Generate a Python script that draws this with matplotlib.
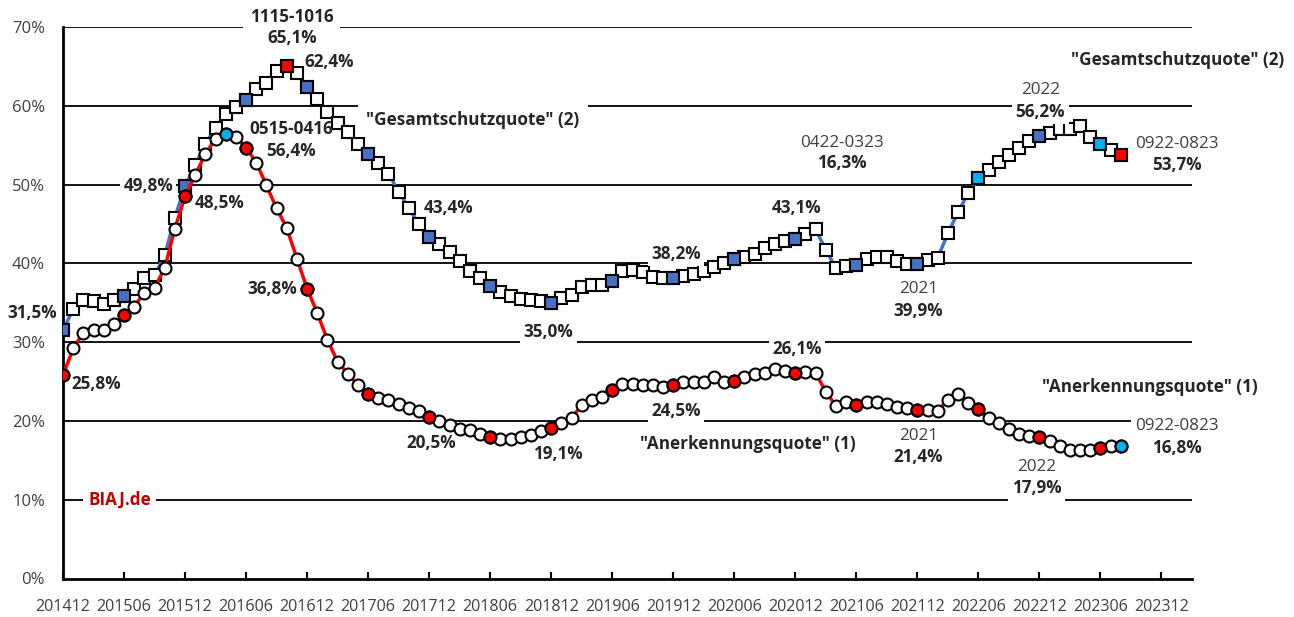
import matplotlib
matplotlib.use("Agg")
import matplotlib.pyplot as plt

# ---------------- data ----------------
tick_labels = ["201412", "201506", "201512", "201606", "201612", "201706", "201712",
               "201806", "201812", "201906", "201912", "202006", "202012", "202106",
               "202112", "202206", "202212", "202306", "202312"]

gesamtschutzquote = [
    31.5, 34.2, 35.4, 35.2, 34.9, 35.3, 35.9, 36.7, 38.2, 38.5, 41.0, 45.8, 49.8, 52.5, 55.2, 57.2, 59.0, 59.9, 60.7,
    62.1, 62.9, 64.4, 65.1, 64.1, 62.4, 60.9, 59.2, 57.8, 56.7, 55.1, 53.9, 52.8, 51.4, 49.1, 47.0, 45.0, 43.4,
    42.5, 41.5, 40.3, 39.0, 38.1, 37.1, 36.4, 35.8, 35.5, 35.3, 35.2, 35.0, 35.6, 36.0, 37.0, 37.2, 37.2, 37.8,
    39.0, 39.1, 38.9, 38.3, 38.2, 38.2, 38.4, 38.7, 39.0, 39.6, 40.0, 40.5, 40.8, 41.2, 41.9, 42.5, 42.9, 43.1,
    43.7, 44.3, 41.7, 39.4, 39.7, 39.8, 40.6, 40.8, 40.8, 40.3, 39.9, 39.9, 40.4, 40.7, 43.8, 46.5, 48.9, 50.8,
    51.8, 52.9, 53.7, 54.6, 55.5, 56.2, 56.6, 57.1, 57.1, 57.4, 56.1, 55.1, 54.4, 53.7]

anerkennungsquote = [
    25.8, 29.2, 31.2, 31.5, 31.6, 32.3, 33.4, 34.5, 36.3, 36.9, 39.4, 44.4, 48.5, 51.2, 53.9, 55.8, 56.4, 56.1, 54.7,
    52.8, 49.9, 47.0, 44.5, 40.6, 36.8, 33.7, 30.3, 27.5, 26.0, 24.5, 23.4, 22.9, 22.6, 22.1, 21.7, 21.2, 20.5,
    20.0, 19.5, 19.0, 18.8, 18.4, 17.9, 17.7, 17.7, 17.9, 18.2, 18.7, 19.1, 19.8, 20.4, 22.0, 22.7, 23.1, 23.9,
    24.7, 24.7, 24.6, 24.5, 24.3, 24.5, 24.9, 25.0, 24.9, 25.6, 25.0, 25.1, 25.6, 25.9, 26.1, 26.6, 26.4, 26.1,
    26.2, 26.1, 23.7, 21.9, 22.4, 22.0, 22.4, 22.4, 22.2, 21.8, 21.6, 21.4, 21.4, 21.3, 22.7, 23.4, 22.3, 21.5,
    20.4, 19.8, 19.0, 18.3, 18.1, 17.9, 17.4, 16.8, 16.3, 16.3, 16.3, 16.6, 16.8, 16.8]

# highlighted markers (indices into the series)
g_blue = [0, 6, 12, 18, 24, 30, 36, 42, 48, 54, 60, 66, 72, 78, 84, 96]
g_cyan = [90, 102]
g_red = [22, 104]
a_red = [0, 6, 12, 18, 24, 30, 36, 42, 48, 54, 60, 66, 72, 78, 84, 90, 96, 102]
a_cyan = [16, 104]

# ---------------- style ----------------
FONT = "Open Sans"
plt.rcParams["font.family"] = [FONT, "DejaVu Sans"]
BLUE = "#4472C4"
CYAN = "#00B0F0"
RED = "#FF0000"
GREY = "#404040"
DARK = "#262626"
FS = 12.3
MS = 8.6

fig = plt.figure(figsize=(12.94, 6.17), dpi=100)
ax = fig.add_axes([63 / 1294, 1 - 578.5 / 617, (1192 - 63) / 1294, (578.5 - 27) / 617])

n = len(gesamtschutzquote)
x = list(range(n))

# gridlines
for v in range(10, 80, 10):
    ax.axhline(v, color="black", lw=1.3, zorder=1)

ax.plot(x, gesamtschutzquote, color=BLUE, lw=2.5, zorder=3,
        marker="s", ms=MS, mfc="white", mec="black", mew=1.5)
for idxs, col in ((g_blue, BLUE), (g_cyan, CYAN), (g_red, RED)):
    ax.plot(idxs, [gesamtschutzquote[i] for i in idxs], ls="none", marker="s", ms=MS,
            mfc=col, mec="black", mew=1.5, zorder=3.5)

ax.plot(x, anerkennungsquote, color=RED, lw=2.5, zorder=4,
        marker="o", ms=MS, mfc="white", mec="black", mew=1.5)
for idxs, col in ((a_red, RED), (a_cyan, CYAN)):
    ax.plot(idxs, [anerkennungsquote[i] for i in idxs], ls="none", marker="o", ms=MS,
            mfc=col, mec="black", mew=1.5, zorder=4.5)

ax.set_xlim(0, 111)
ax.set_ylim(0, 70)
ax.set_yticks(range(0, 80, 10))
ax.set_yticklabels([f"{v}%" for v in range(0, 80, 10)], fontsize=12, color=GREY)
ax.set_xticks(range(0, 109, 6))
ax.set_xticklabels(tick_labels, fontsize=11.6, color=GREY)
ax.tick_params(axis="y", length=0, pad=13)
ax.tick_params(axis="x", direction="in", length=5, width=1.5, pad=15)
for s in ("top", "right"):
    ax.spines[s].set_visible(False)
for s in ("left", "bottom"):
    ax.spines[s].set_linewidth(2)
ax.spines["bottom"].set_zorder(6)


def lab(series, idx, dx, dy, text, bold=True, box=False, ha="center", color=None, pad=0.2):
    kw = {}
    if box:
        kw["bbox"] = dict(boxstyle=f"square,pad={pad}", fc="white", ec="none")
    ax.annotate(text, xy=(idx, series[idx]), xytext=(dx, -dy), textcoords="offset pixels",
                ha=ha, va="center", fontsize=FS, fontweight="bold" if bold else "normal",
                color=color or (DARK if bold else GREY), zorder=7, **kw)


G, A = gesamtschutzquote, anerkennungsquote
lab(G, 22, 5, -49, "1115-1016", box=True, pad=0.4)
lab(G, 22, 5, -28, "65,1%", box=True)
lab(G, 24, 22, -25, "62,4%")
lab(A, 16, 66, -5, "0515-0416")
lab(A, 16, 65, 17, "56,4%")
lab(G, 12, -12, 0, "49,8%", box=True, ha="right")
lab(A, 12, 35, 7, "48,5%")
lab(G, 0, -31, -17, "31,5%")
lab(A, 0, 33, 9, "25,8%")
lab(A, 24, -35, 0, "36,8%")
lab(G, 36, 19, -29, "43,4%")
lab(A, 36, 2, 26, "20,5%")
lab(G, 48, -3, 29, "35,0%", box=True)
lab(A, 48, 7, 26, "19,1%")
lab(G, 60, 3, -24, "38,2%", box=True)
lab(A, 60, 3, 26, "24,5%", box=True)
lab(A, 72, 2, -24, "26,1%", box=True)
lab(G, 72, 1, -31, "43,1%")
lab(G, 84, 1, 25, "2021", bold=False)
lab(G, 84, 1, 47, "39,9%")
lab(G, 96, 1, -46, "2022", bold=False, box=True)
lab(G, 96, 1, -24, "56,2%", box=True)
lab(G, 104, 56, -11, "0922-0823", bold=False)
lab(G, 104, 56, 10, "53,7%")
lab(A, 104, 56, -20, "0922-0823", bold=False, box=True, pad=0.25)
lab(A, 104, 56, 2, "16,8%")
lab(A, 84, 1, 26, "2021", bold=False)
lab(A, 84, 1, 47, "21,4%")
lab(A, 96, -3, 30, "2022", bold=False)
lab(A, 96, -3, 51, "17,9%", box=True)

# free texts
ax.text(76.6, 55.3, "0422-0323", ha="center", va="center", fontsize=FS, color=GREY, zorder=7)
ax.text(76.6, 52.7, "16,3%", ha="center", va="center", fontsize=FS, fontweight="bold", color=DARK, zorder=7)
ax.text(40.3, 58.25, '"Gesamtschutzquote" (2)', ha="center", va="center", fontsize=FS,
        fontweight="bold", color=DARK, zorder=7,
        bbox=dict(boxstyle="square,pad=0.5", fc="white", ec="none"))
ax.text(109.6, 65.8, '"Gesamtschutzquote" (2)', ha="center", va="center", fontsize=FS,
        fontweight="bold", color=DARK, zorder=7)
ax.text(67.3, 17.1, '"Anerkennungsquote" (1)', ha="center", va="center", fontsize=FS,
        fontweight="bold", color=DARK, zorder=7)
ax.text(106.9, 24.3, '"Anerkennungsquote" (1)', ha="center", va="center", fontsize=FS,
        fontweight="bold", color=DARK, zorder=7)
ax.text(5.6, 10.0, "BIAJ.de", ha="center", va="center", fontsize=FS, fontweight="bold",
        color="#C00000", zorder=7, bbox=dict(boxstyle="square,pad=0.3", fc="white", ec="none"))

fig.savefig("out.png", dpi=100)
